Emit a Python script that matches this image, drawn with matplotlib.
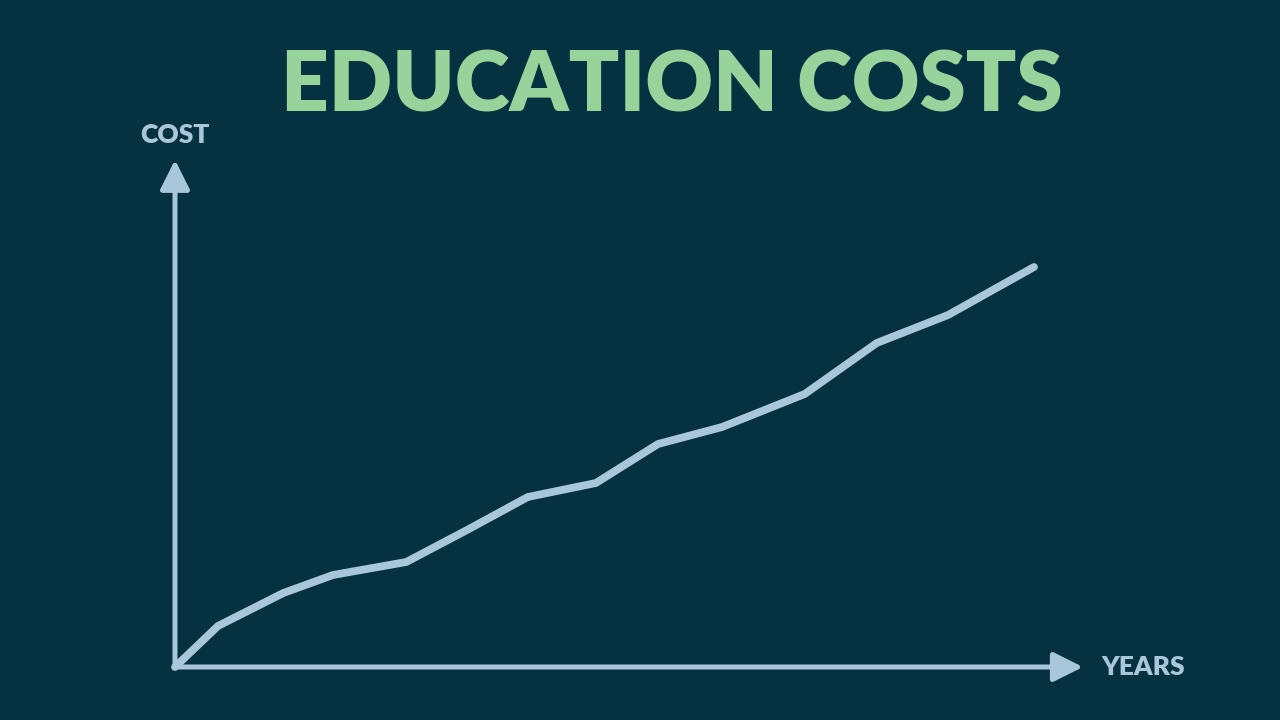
import matplotlib.pyplot as plt

# data
years = [0, 0.65, 1.64, 2.39, 3.5, 4.42, 5.34, 6.37, 7.31, 8.28, 9.53, 10.62, 11.7, 13.0]
cost = [0, 4.1, 7.4, 9.2, 10.5, 13.7, 17.0, 18.4, 22.3, 24.0, 27.3, 32.4, 35.2, 40.0]

bg = "#053140"
fg = "#a8c7da"
green = "#97d39b"

plt.rcParams["font.family"] = ["Lato", "DejaVu Sans"]

fig = plt.figure(figsize=(12.8, 7.2), dpi=100, facecolor=bg)
ax = fig.add_axes([175 / 1280, 53 / 720, 859 / 1280, 400 / 720])
ax.set_facecolor(bg)
ax.set_xlim(0, 13)
ax.set_ylim(0, 40)
for s in ax.spines.values():
    s.set_visible(False)
ax.set_xticks([])
ax.set_yticks([])

ax.plot(years, cost, color=fg, lw=5.6, solid_capstyle="round",
        solid_joinstyle="round", clip_on=False, zorder=3)

# axis arrows
arrow = dict(arrowstyle="-|>,head_length=0.9,head_width=0.45", color=fg,
             lw=3.6, shrinkA=0, shrinkB=0, capstyle="round", mutation_scale=20)
ax.annotate("", xy=(0, 1.268), xytext=(0, 0), xycoords="axes fraction",
            textcoords="axes fraction", arrowprops=arrow, annotation_clip=False)
ax.annotate("", xy=(1.057, 0), xytext=(0, 0), xycoords="axes fraction",
            textcoords="axes fraction", arrowprops=arrow, annotation_clip=False)

ax.text(0, 1.33, "COST", transform=ax.transAxes, ha="center", va="center",
        color=fg, fontsize=19, fontweight="heavy")
ax.text(1.078, 0, "YEARS", transform=ax.transAxes, ha="left", va="center",
        color=fg, fontsize=19, fontweight="heavy")

fig.text(672 / 1280, 1 - 87 / 720, "EDUCATION COSTS", ha="center", va="center",
         color=green, fontsize=60, fontweight="heavy")

fig.savefig("out.png", dpi=100, facecolor=bg)
